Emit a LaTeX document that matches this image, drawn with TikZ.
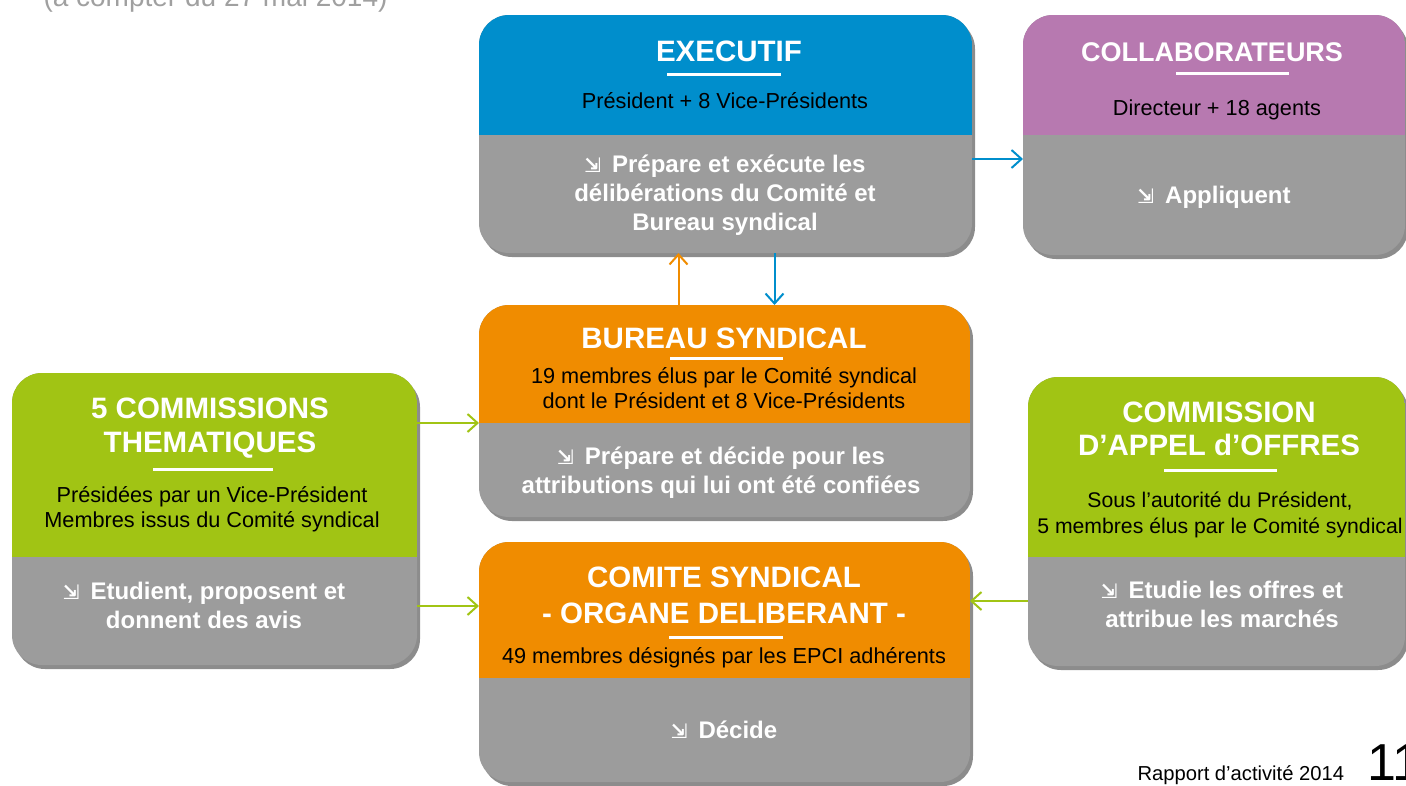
\documentclass[tikz,border=0pt]{standalone}
\usepackage{fontspec}
\setmainfont{Liberation Sans}
\newfontfamily\symfont{DejaVu Sans}
\usetikzlibrary{arrows.meta,shadows}
\definecolor{execblue}{RGB}{0,142,204}
\definecolor{collabpurple}{RGB}{183,121,176}
\definecolor{bureauorange}{RGB}{240,140,0}
\definecolor{commgreen}{RGB}{161,196,20}
\definecolor{boxgrey}{RGB}{156,156,156}
\definecolor{notegrey}{RGB}{160,160,160}
\newcommand{\down}{{\symfont\fontsize{20}{20}\selectfont ⇲}\hspace{11pt}}
\begin{document}
\begin{tikzpicture}[x=1pt, y=-1pt,
	box/.style={rectangle, rounded corners=30pt, fill=boxgrey, inner sep=0pt, outer sep=0pt,
		drop shadow={shadow xshift=3pt, shadow yshift=-4pt, opacity=0.45, fill=black}},
	title/.style={text=white, font=\bfseries\fontsize{29.5}{34}\selectfont, align=center, anchor=base},
	desc/.style={text=black, font=\fontsize{21.7}{25}\selectfont, align=center, anchor=base},
	action/.style={text=white, font=\bfseries\fontsize{24}{29}\selectfont, align=center, anchor=base},
	underline/.style={white, line width=3pt},
	link/.style={line width=2pt, -{Straight Barb[length=10pt, width=18pt]}}]
	\useasboundingbox (0,0) rectangle (1406,785);
	
	%boxes
	\node[box, minimum width=493pt, minimum height=238pt] (executif) at (725.5,134) {};
	\node[box, minimum width=382pt, minimum height=240pt] (collab) at (1214,135) {};
	\node[box, minimum width=491pt, minimum height=212pt] (bureau) at (724.5,411) {};
	\node[box, minimum width=491pt, minimum height=240pt] (comite) at (724.5,662) {};
	\node[box, minimum width=405pt, minimum height=292pt] (commissions) at (214.5,519) {};
	\node[box, minimum width=377pt, minimum height=289pt] (appel) at (1216.5,521.5) {};
	
	%coloured heads
	\begin{scope}
		\clip[rounded corners=30pt] (executif.north west) rectangle (executif.south east);
		\fill[execblue] (executif.north west) rectangle ([yshift=-120pt]executif.north east);
	\end{scope}
	\begin{scope}
		\clip[rounded corners=30pt] (collab.north west) rectangle (collab.south east);
		\fill[collabpurple] (collab.north west) rectangle ([yshift=-120pt]collab.north east);
	\end{scope}
	\begin{scope}
		\clip[rounded corners=30pt] (bureau.north west) rectangle (bureau.south east);
		\fill[bureauorange] (bureau.north west) rectangle ([yshift=-118pt]bureau.north east);
	\end{scope}
	\begin{scope}
		\clip[rounded corners=30pt] (comite.north west) rectangle (comite.south east);
		\fill[bureauorange] (comite.north west) rectangle ([yshift=-136pt]comite.north east);
	\end{scope}
	\begin{scope}
		\clip[rounded corners=30pt] (commissions.north west) rectangle (commissions.south east);
		\fill[commgreen] (commissions.north west) rectangle ([yshift=-184pt]commissions.north east);
	\end{scope}
	\begin{scope}
		\clip[rounded corners=30pt] (appel.north west) rectangle (appel.south east);
		\fill[commgreen] (appel.north west) rectangle ([yshift=-180pt]appel.north east);
	\end{scope}
	
	%executif
	\node[title] (executiftitle) at (729,61) {EXECUTIF};
	\draw[underline] (667,74) -- (781,74);
	\node[desc] (executifdesc) at (725,108) {Président + 8 Vice-Présidents};
	\node[action] (executifaction) at (725,230) {\down Prépare et exécute les\\délibérations du Comité et\\Bureau syndical};
	
	%collaborateurs
	\node[title, font=\bfseries\fontsize{27}{32}\selectfont] (collabtitle) at (1212,61) {COLLABORATEURS};
	\draw[underline] (1176,73) -- (1289,73);
	\node[desc] (collabdesc) at (1217,115) {Directeur + 18 agents};
	\node[action] (collabaction) at (1214,203) {\down Appliquent};
	
	%bureau
	\node[title] (bureautitle) at (724,348) {BUREAU SYNDICAL};
	\draw[underline] (670,358) -- (783,358);
	\node[desc] (bureaudesc) at (724,408) {19 membres élus par le Comité syndical\\dont le Président et 8 Vice-Présidents};
	\node[action] (bureauaction) at (721,493) {\down Prépare et décide pour les\\attributions qui lui ont été confiées};
	
	%comite
	\node[title, font=\bfseries\fontsize{29.5}{36}\selectfont] (comitetitle) at (724,623) {COMITE SYNDICAL\\- ORGANE DELIBERANT -};
	\draw[underline] (669,637) -- (783,637);
	\node[desc] (comitedesc) at (724,663) {49 membres désignés par les EPCI adhérents};
	\node[action] (comiteaction) at (724,738) {\down Décide};
	
	%commissions
	\node[title] (commissionstitle) at (210,452) {5 COMMISSIONS\\THEMATIQUES};
	\draw[underline] (153,469) -- (273,469);
	\node[desc] (commissionsdesc) at (212,527) {Présidées par un Vice-Président\\Membres issus du Comité syndical};
	\node[action] (commissionsaction) at (204,628) {\down Etudient, proposent et\\donnent des avis};
	
	%appel d'offres
	\node[title, font=\bfseries\fontsize{29.5}{33}\selectfont] (appeltitle) at (1219,455) {COMMISSION\\D’APPEL d’OFFRES};
	\draw[underline] (1164,470) -- (1277,470);
	\node[desc, font=\fontsize{21.2}{26}\selectfont] (appeldesc) at (1220,533) {Sous l’autorité du Président,\\5 membres élus par le Comité syndical};
	\node[action] (appelaction) at (1222,627) {\down Etudie les offres et\\attribue les marchés};
	
	%links
	\coordinate (bureauin) at ([yshift=-12pt]bureau.west);
	\coordinate (comitein) at ([yshift=56pt]comite.west);
	\coordinate (comiteright) at ([yshift=61pt]comite.east);
	\coordinate (collabin) at ([yshift=-24pt]collab.west);
	\draw[link, execblue] (collabin -| executif.east) -- (collabin);
	\draw[link, bureauorange] ([xshift=-46pt]bureau.north) -- ([xshift=-46pt]bureau.north |- executif.south);
	\draw[link, execblue] ([xshift=50pt]bureau.north |- executif.south) -- ([xshift=50pt]bureau.north);
	\draw[link, commgreen] (bureauin -| commissions.east) -- (bureauin);
	\draw[link, commgreen] (comitein -| commissions.east) -- (comitein);
	\draw[link, commgreen] (comiteright -| appel.west) -- (comiteright);
	
	%page texts
	\node[anchor=base west, text=notegrey, font=\fontsize{28}{34}\selectfont] (dateline) at (40,6) {(à compter du 27 mai 2014)};
	\node[anchor=base west, font=\fontsize{20.2}{24}\selectfont] (report) at (1134,780) {Rapport d’activité 2014};
	\node[anchor=base west, inner sep=0pt, font=\fontsize{52}{60}\selectfont] (pagenum) at (1367,780) {11};
\end{tikzpicture}
\end{document}
